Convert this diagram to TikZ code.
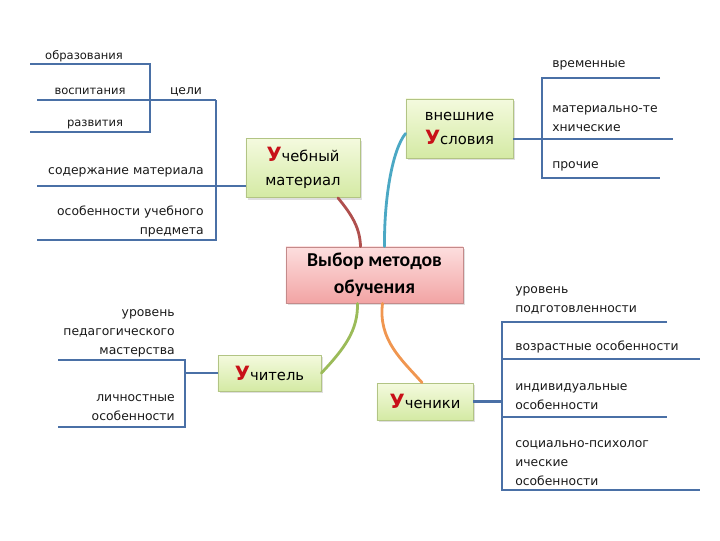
\documentclass[tikz,border=0pt]{standalone}
\usepackage{fontspec}
\setmainfont{DejaVu Sans}
\newfontfamily\calibri{Carlito}
\usetikzlibrary{calc}
\usetikzlibrary{shadows}

\definecolor{branchblue}{RGB}{74,112,166}
\definecolor{greentop}{RGB}{244,250,222}
\definecolor{greenbot}{RGB}{212,234,164}
\definecolor{greenframe}{RGB}{178,196,132}
\definecolor{pinktop}{RGB}{253,222,222}
\definecolor{pinkbot}{RGB}{242,164,164}
\definecolor{pinkframe}{RGB}{196,138,138}
\definecolor{ured}{RGB}{200,16,24}
\definecolor{linkred}{RGB}{176,80,78}
\definecolor{linkteal}{RGB}{75,168,196}
\definecolor{linkgreen}{RGB}{155,187,89}
\definecolor{linkorange}{RGB}{240,150,80}

% red capital letter of the topic boxes
\newcommand{\redU}{{\fontsize{14}{14}\selectfont\bfseries\textcolor{ured}{У}}}

\begin{document}
\begin{tikzpicture}[x=0.025cm, y=-0.025cm, line join=round,
  topic/.style={draw=greenframe, line width=0.6pt, top color=greentop,
    bottom color=greenbot, align=center, inner sep=2pt,
    font=\fontsize{10.5}{17}\selectfont,
    drop shadow={opacity=0.25, shadow xshift=1.5pt, shadow yshift=-1.5pt}},
  root/.style={topic, draw=pinkframe, top color=pinktop, bottom color=pinkbot,
    font=\calibri\bfseries\fontsize{14}{19}\selectfont},
  leaf/.style={inner sep=0pt, text=black!90, font=\fontsize{8.8}{13.5}\selectfont},
  smallleaf/.style={leaf, font=\fontsize{8.2}{12}\selectfont},
  branch/.style={draw=branchblue, line width=2.1pt, line cap=butt, line join=miter},
  link/.style={line width=2pt, line cap=round}]
  \useasboundingbox (0,0) rectangle (720,540);

  % central and topic boxes
  \node[root, minimum width=4.425cm, minimum height=1.4cm] (vm) at (374.5,275)
    {Выбор методов\\обучения};
  \node[topic, minimum width=2.85cm, minimum height=1.475cm] (um) at (303,168)
    {\redU{}чебный\\материал};
  \node[topic, minimum width=2.675cm, minimum height=1.475cm] (vu) at (459.5,128.5)
    {внешние\\\redU{}словия};
  \node[topic, minimum width=2.575cm, minimum height=0.9cm] (uch) at (269.5,373)
    {\redU{}читель};
  \node[topic, minimum width=2.4cm, minimum height=0.925cm] (uchn) at (425,401.5)
    {\redU{}ченики};

  % curved links to the centre
  \draw[link, linkred] ($(um.south)+(35,0)$) .. controls (352,215) and (360,228) .. ($(vm.north)+(-14,0)$);
  \draw[link, linkteal] ($(vu.west)+(0,5)$) .. controls (392,150) and (384,200) .. ($(vm.north)+(10,0)$);
  \draw[link, linkgreen] ($(vm.south)+(-17,0)$) .. controls (358,330) and (345,348) .. (uch.east);
  \draw[link, linkorange] ($(vm.south)+(8,0)$) .. controls (378,340) and (402,360) .. ($(uchn.north)+(-3,0)$);

  % learning material
  \coordinate (celi) at (216,100);
  \coordinate (celiend) at (150,100);
  \draw[branch] (um.west |- 0,186) -- (37,186);
  \draw[branch] (celi) -- (216,240) -- (37,240);
  \draw[branch] (celi) -- (celiend) -- (37,100);
  \draw[branch] (30,64) -- (150,64) -- (150,132) -- (30,132);
  \node[smallleaf] (obr) at (84,56) {образования};
  \node[smallleaf] (vos) at (90,91) {воспитания};
  \node[smallleaf] (raz) at (95,124) {развития};
  \node[leaf] (cel) at (186,92) {цели};
  \node[leaf, anchor=east] (sod) at (204,172) {содержание материала};
  \node[leaf, anchor=east, align=right] (osu) at (204,221) {особенности учебного\\предмета};

  % outer conditions
  \draw[branch] (vu.east |- 0,139) -- (673,139);
  \draw[branch] (660,78) -- (542,78) -- (542,178) -- (660,178);
  \node[leaf, anchor=west] (vrem) at (552,65) {временные};
  \node[leaf, anchor=west, align=left] (mat) at (552,119) {материально-те\\хнические};
  \node[leaf, anchor=west] (pro) at (552,166) {прочие};

  % teacher
  \draw[branch] (uch.west) -- (185,373);
  \draw[branch] (58,360) -- (185,360) -- (185,427) -- (58,427);
  \node[leaf, anchor=east, align=right] (upm) at (175,333) {уровень\\педагогического\\мастерства};
  \node[leaf, anchor=east, align=right] (lo) at (175,408) {личностные\\особенности};

  % pupils
  \draw[branch] (uchn.east) -- (502,401.5);
  \draw[branch] (667,322) -- (502,322) -- (502,490) -- (700,490);
  \draw[branch] (502,359) -- (700,359);
  \draw[branch] (502,417) -- (667,417);
  \node[leaf, anchor=west, align=left] (up) at (515,300) {уровень\\подготовленности};
  \node[leaf, anchor=west] (vo) at (515,347) {возрастные особенности};
  \node[leaf, anchor=west, align=left] (io) at (515,397) {индивидуальные\\особенности};
  \node[leaf, anchor=west, align=left] (spo) at (515,463) {социально-психолог\\ические\\особенности};
\end{tikzpicture}
\end{document}
